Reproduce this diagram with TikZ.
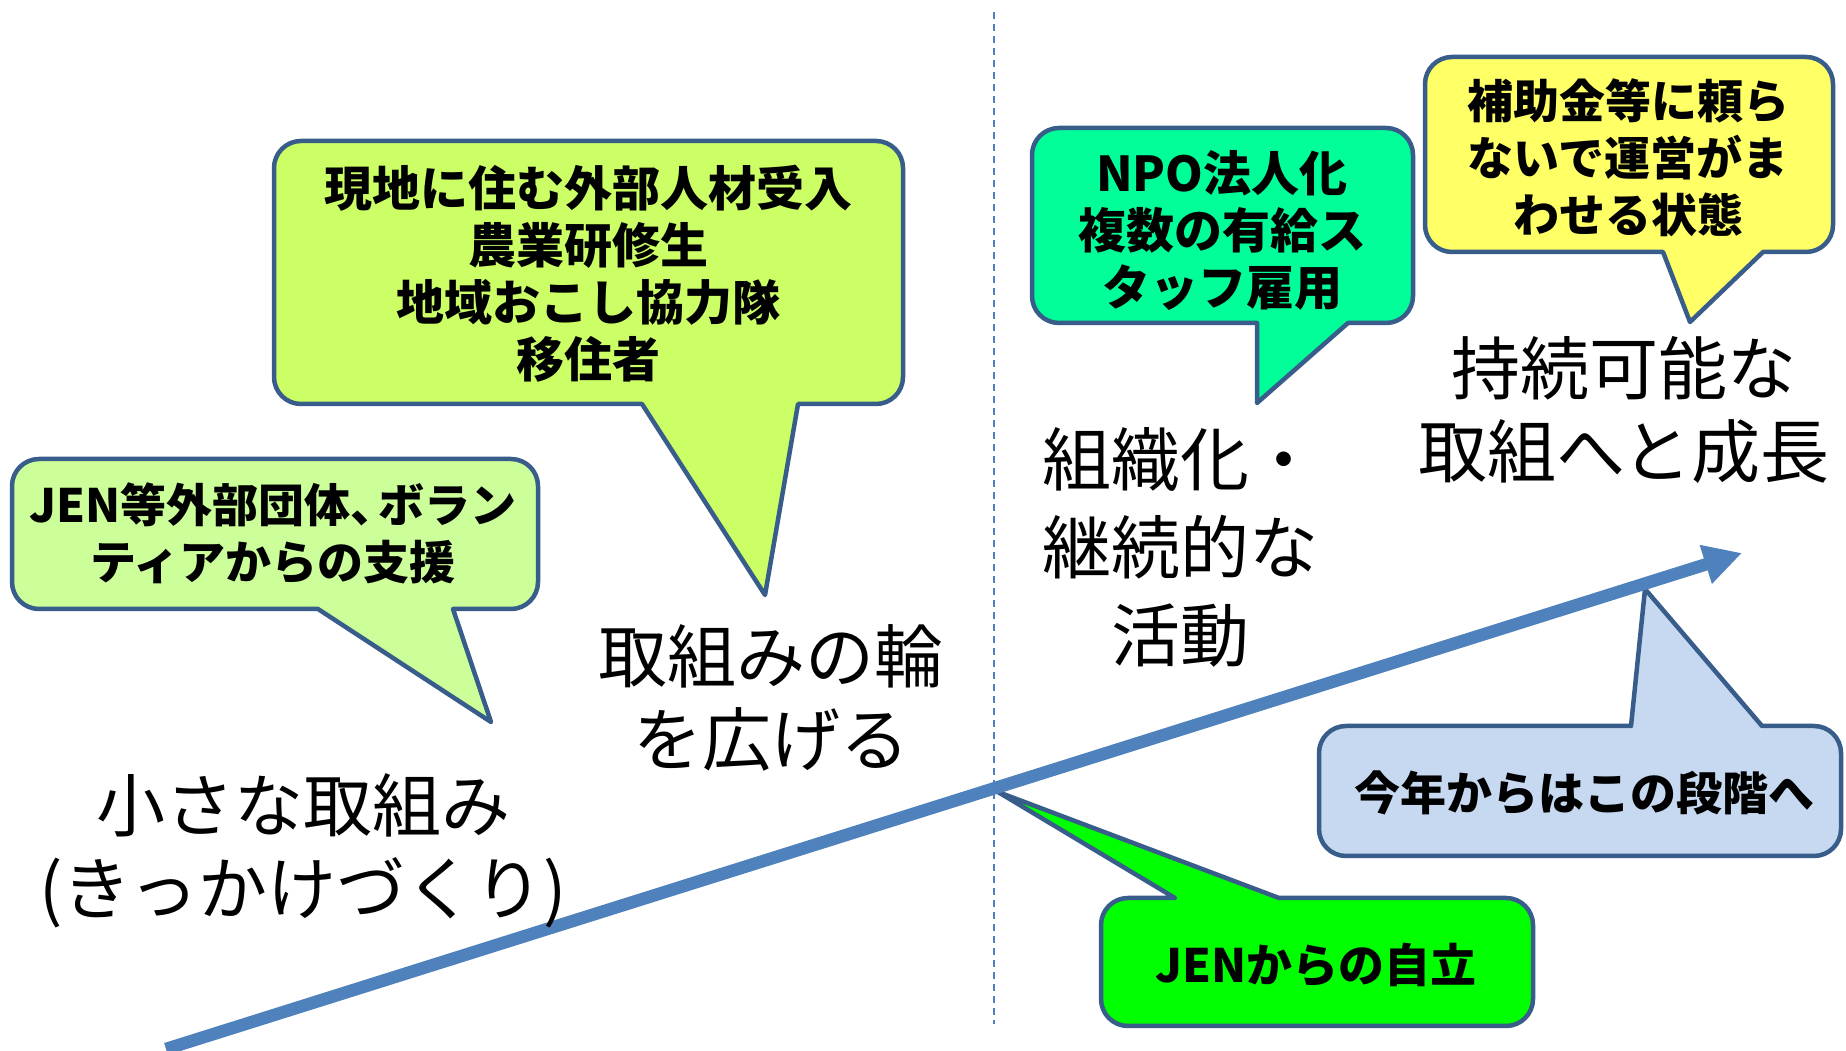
\documentclass[tikz,border=0pt]{standalone}
\usepackage{fontspec}
\newfontfamily\jpfont{Noto Sans CJK JP}
\usetikzlibrary{arrows.meta}
\definecolor{edgeblue}{HTML}{385D8A}
\definecolor{arrowblue}{HTML}{4F81BD}
\definecolor{fillA}{HTML}{CCFF99}
\definecolor{fillB}{HTML}{CCFF66}
\definecolor{fillC}{HTML}{00FF99}
\definecolor{fillD}{HTML}{FFFF66}
\definecolor{fillE}{HTML}{C6D9F1}
\definecolor{fillF}{HTML}{00FF00}
\tikzset{
  bub/.style={draw=edgeblue, line width=4.5pt, line join=round},
  ctext/.style={font=\jpfont\bfseries\fontsize{46}{57}\selectfont, align=center, inner sep=0pt, text=black},
  ctextL/.style={ctext, font=\jpfont\bfseries\fontsize{48}{57}\selectfont},
  btext/.style={font=\jpfont\fontsize{69}{83}\selectfont, align=center, inner sep=0pt, text=black},
  mainarrow/.style={draw=arrowblue, line width=12.5pt, -{Triangle[length=38pt,width=38pt]}},
  divider/.style={draw=arrowblue, line width=1.5pt, dash pattern=on 7pt off 5pt},
}
% bubble with pointer at the bottom: fill, L, B, R, T, p1, p2, tip x, tip y
\newcommand\bubbot[9]{%
  \path[bub, fill=#1] (#6,#3) -- (#2+27,#3) arc[start angle=270,end angle=180,radius=27pt]
   -- (#2,#5-27) arc[start angle=180,end angle=90,radius=27pt]
   -- (#4-27,#5) arc[start angle=90,end angle=0,radius=27pt]
   -- (#4,#3+27) arc[start angle=0,end angle=-90,radius=27pt]
   -- (#7,#3) -- (#8,#9) -- cycle;}
% bubble with pointer at the top
\newcommand\bubtop[9]{%
  \path[bub, fill=#1] (#6,#5) -- (#8,#9) -- (#7,#5)
   -- (#4-27,#5) arc[start angle=90,end angle=0,radius=27pt]
   -- (#4,#3+27) arc[start angle=0,end angle=-90,radius=27pt]
   -- (#2+27,#3) arc[start angle=270,end angle=180,radius=27pt]
   -- (#2,#5-27) arc[start angle=180,end angle=90,radius=27pt] -- cycle;}
\begin{document}
\begin{tikzpicture}[x=1pt,y=1pt]
\useasboundingbox[fill=white] (0,0) rectangle (1846,1051);
% divider
\coordinate (dtop) at (994,1039);
\coordinate (dbot) at (994,27);
\draw[divider] (dtop) -- (dbot);
% callouts
\bubbot{fillA}{12}{442}{538}{592}{318}{453}{491}{329}
\bubbot{fillB}{274}{647}{903}{910}{642}{798}{765}{456}
\bubbot{fillC}{1032}{728}{1413}{923}{1257}{1348}{1257}{648}
\bubbot{fillD}{1425}{799}{1833}{994}{1663}{1763}{1690}{729}
\bubtop{fillE}{1319}{195}{1841}{325}{1631}{1762}{1645}{462}
\bubtop{fillF}{1101}{25}{1533}{153}{1175}{1279}{998}{259}
% main arrow
\coordinate (astart) at (166,2);
\coordinate (aend) at (1742,498);
\draw[mainarrow] (astart) -- (aend);
% callout texts
\node[ctext] (t1) at (273,517.5) {JEN等外部団体\makebox[0.6em][l]{、}ボラン\\ティアからの支援};
\node[ctextL] (t2) at (588,777.5) {現地に住む外部人材受入\\農業研修生\\地域おこし協力隊\\移住者};
\node[ctextL] (t3) at (1222,821) {NPO法人化\\複数の有給ス\\タッフ雇用};
\node[ctext] (t4) at (1628,893.5) {補助金等に頼ら\\ないで運営がま\\わせる状態};
\node[ctext] (t5) at (1584,258) {今年からはこの段階へ};
\node[ctext] (t6) at (1316,86) {JENからの自立};
% stage texts
\node[btext] (s1) at (303,200.5) {小さな取組み\\(きっかけづくり)};
\node[btext] (s2) at (771,353.5) {取組みの輪\\を広げる};
\node[btext, font=\jpfont\fontsize{69}{88}\selectfont] (s3) at (1180,503.5) {組織化・\\継続的な\\活動};
\node[btext] (s4) at (1624,641.5) {持続可能な\\取組へと成長};
\end{tikzpicture}
\end{document}
